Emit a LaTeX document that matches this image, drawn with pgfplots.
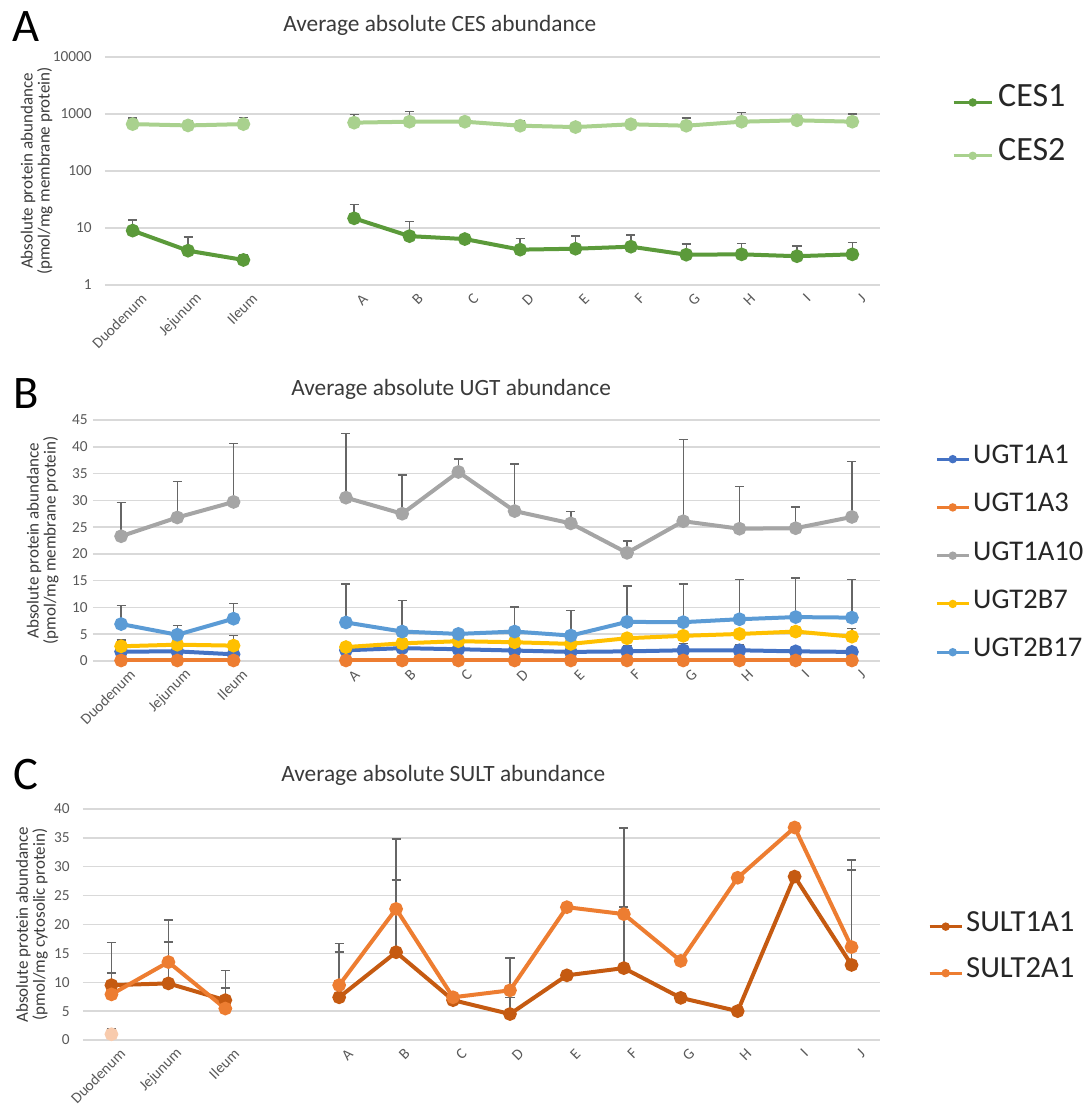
\documentclass[border=0pt]{standalone}
\usepackage{fontspec}
\setmainfont{Carlito}
\usepackage{pgfplots}
\pgfplotsset{compat=1.18}
\usepackage{pgfplotstable}

\definecolor{cesone}{HTML}{5B9A3A}
\definecolor{cestwo}{HTML}{A9D18E}
\definecolor{ugtaone}{HTML}{4472C4}
\definecolor{ugtathree}{HTML}{ED7D31}
\definecolor{ugtaten}{HTML}{A5A5A5}
\definecolor{ugtbseven}{HTML}{FFC000}
\definecolor{ugtbseventeen}{HTML}{5B9BD5}
\definecolor{sultone}{HTML}{C55A11}
\definecolor{sulttwo}{HTML}{ED7D31}
\definecolor{paleorange}{HTML}{F8CBAD}
\definecolor{errc}{HTML}{666666}
\definecolor{gridc}{HTML}{D9D9D9}
\definecolor{tickc}{HTML}{595959}
\definecolor{titlec}{HTML}{3A3A3A}

% CES (pmol/mg membrane protein); e = upper error bar length
\pgfplotstableread{
x  ces1  e1    ces2  e2
0  9.0   4.8   665   185
1  4.0   2.9   630   135
2  2.75  0.65  665   205
3  nan   nan   nan   nan
4  14.8  11.2  705   275
5  7.2   5.7   733   367
6  6.4   0     733   0
7  4.17  2.33  623   132
8  4.33  2.97  590   0
9  4.7   2.9   660   115
10 3.4   1.8   623   227
11 3.45  1.95  733   337
12 3.2   1.6   775   175
13 3.45  2.15  733   267
}\tabA

% UGT
\pgfplotstableread{
x  a1    ea1  a3   ea3  a10   ea10  b7    eb7   b17   eb17
0  1.75  0.5  0.1  0    23.3  6.3   2.75  1.15  6.9   3.5
1  1.8   0.5  0.1  0    26.8  6.7   3.05  0.4   4.9   1.7
2  1.25  0.4  0.1  0    29.7  10.9  2.87  1.9   7.9   2.8
3  nan   nan  nan  nan  nan   nan   nan   nan   nan   nan
4  2.0   0.4  0.1  0    30.5  12.0  2.6   0.3   7.2   7.2
5  2.4   0.5  0.1  0    27.5  7.2   3.3   0.95  5.5   5.8
6  2.2   0.4  0.1  0    35.3  2.4   3.7   0     5.06  0
7  1.95  0.5  0.1  0    28.0  8.8   3.5   0.8   5.5   4.6
8  1.7   0.5  0.1  0    25.7  2.2   3.2   0.3   4.75  4.65
9  1.8   1.1  0.1  0    20.2  2.2   4.25  0.3   7.3   6.7
10 2.0   1.3  0.1  0    26.1  15.3  4.7   0.3   7.25  7.15
11 2.0   1.0  0.1  0    24.7  7.9   5.05  0.3   7.8   7.4
12 1.8   0.9  0.1  0    24.8  4.0   5.5   0.9   8.2   7.3
13 1.7   0.7  0.1  0    26.9  10.4  4.55  1.5   8.1   7.1
}\tabB

% SULT (pmol/mg cytosolic protein)
\pgfplotstableread{
x  s1    es1   s2    es2
0  9.5   2.1   7.9   9.0
1  9.8   7.2   13.5  7.3
2  6.9   5.1   5.45  3.55
3  nan   nan   nan   nan
4  7.4   7.8   9.5   7.2
5  15.2  12.5  22.7  12.1
6  6.9   0     7.4   0
7  4.5   2.9   8.6   5.6
8  11.2  0     23.0  0
9  12.45 10.55 21.8  14.95
10 7.3   0     13.7  0
11 5.0   0     28.1  0
12 28.3  0     36.8  0
13 13.0  16.4  16.1  15.1
}\tabC

\pgfplotsset{
  panel/.style={
    scale only axis, clip=false,
    xmin=-0.5, xmax=13.5,
    xtick={0,1,2,4,5,6,7,8,9,10,11,12,13},
    xticklabels={Duodenum,Jejunum,Ileum,A,B,C,D,E,F,G,H,I,J},
    axis line style={draw=none}, tick style={draw=none},
    major tick length=0pt, minor tick length=0pt,
    ymajorgrids, grid style={gridc, line width=1.1pt},
    unbounded coords=jump,
    /pgf/number format/assume math mode=true,
    tick label style={font=\fontsize{11.5}{13}\selectfont, color=tickc},
    xticklabel style={rotate=45, anchor=east, inner sep=0pt, yshift=-12pt},
    ylabel style={align=center, anchor=center, color=titlec,
      font=\fontsize{12.75}{12.75}\selectfont},
    title style={anchor=center, yshift=0pt, color=titlec, font=\fontsize{17.5}{20}\selectfont},
    legend style={draw=none, fill=none, inner sep=0pt, legend cell align=left,
      text=black!85, nodes={inner sep=0pt, text height=0.66em, text depth=0pt}},
    every axis plot/.append style={line width=3pt, mark=*, mark size=3.6pt},
  },
  errs/.style={forget plot, draw=none, mark=none,
    error bars/.cd, y dir=plus, y explicit,
    error bar style={draw=errc, solid, line width=1.1pt},
    error mark options={rotate=90, draw=errc, solid, line width=1.1pt, mark size=3.4pt}},
  leglen/.style={legend image code/.code={
    \draw[mark repeat=2, mark phase=2, #1, line width=2.2pt, mark size=2pt]
      plot coordinates {(0pt,0pt) (\pgfkeysvalueof{/pgfplots/leghalf},0pt) (\pgfkeysvalueof{/pgfplots/legfull},0pt)};}},
  leghalf/.initial=12pt, legfull/.initial=24pt,
}

\begin{document}
\begin{tikzpicture}
\useasboundingbox (0pt,0pt) rectangle (816.75pt,-833.25pt);

\node[font=\fontsize{35}{35}\selectfont] at (19.5pt,-20.25pt) {A};
\node[font=\fontsize{35}{35}\selectfont] at (19.5pt,-295.5pt) {B};
\node[font=\fontsize{35}{35}\selectfont] at (19.5pt,-581.25pt) {C};

% ---------- A: CES ----------
\begin{axis}[panel,
  at={(78.75pt,-42.75pt)}, anchor=north west,
  width=581.25pt, height=171pt,
  ymode=log, ymin=1, ymax=10000,
  ytick={1,10,100,1000,10000}, yticklabels={1,10,100,1000,10000},
  yticklabel style={anchor=east, inner sep=0pt, xshift=-9.75pt},
  title={Average absolute CES abundance},
  title style={at={(axis description cs:0.432,1.105)}},
  ylabel={Absolute protein abundance\\(pmol/mg membrane protein)},
  ylabel style={at={(axis description cs:-0.088,0.5)}},
  leghalf=14.25pt, legfull=28.5pt, leglen,
  legend style={at={(axis description cs:1.0929,0.821)}, anchor=north west,
    font=\fontsize{25.5}{28}\selectfont, row sep=33.4pt, column sep=3.75pt},
]
\addplot[errs] table[x=x, y=ces1, y error=e1]{\tabA};
\addplot[errs] table[x=x, y=ces2, y error=e2]{\tabA};
\addplot[color=cesone] table[x=x, y=ces1]{\tabA};
\addlegendentry{CES1}
\addplot[color=cestwo] table[x=x, y=ces2]{\tabA};
\addlegendentry{CES2}
\end{axis}

% ---------- B: UGT ----------
\begin{axis}[panel,
  at={(69.75pt,-315pt)}, anchor=north west,
  width=590.25pt, height=180.75pt,
  ymin=0, ymax=45, ytick={0,5,...,45},
  yticklabel style={anchor=east, inner sep=0pt, xshift=-3.75pt},
  title={Average absolute UGT abundance},
  title style={at={(axis description cs:0.455,1.095)}},
  ylabel={Absolute protein abundance\\(pmol/mg membrane protein)},
  ylabel style={at={(axis description cs:-0.064,0.5)}},
  leghalf=12pt, legfull=24pt, leglen,
  legend style={at={(axis description cs:1.0699,0.857)}, anchor=north west,
    font=\fontsize{21.4}{24}\selectfont, row sep=29.6pt, column sep=2.25pt},
]
\addplot[errs] table[x=x, y=a10, y error=ea10]{\tabB};
\addplot[errs] table[x=x, y=b17, y error=eb17]{\tabB};
\addplot[errs] table[x=x, y=b7, y error=eb7]{\tabB};
\addplot[errs] table[x=x, y=a1, y error=ea1]{\tabB};
\addplot[color=ugtaone] table[x=x, y=a1]{\tabB};
\addlegendentry{UGT1A1}
\addplot[color=ugtathree] table[x=x, y=a3]{\tabB};
\addlegendentry{UGT1A3}
\addplot[color=ugtaten] table[x=x, y=a10]{\tabB};
\addlegendentry{UGT1A10}
\addplot[color=ugtbseven] table[x=x, y=b7]{\tabB};
\addlegendentry{UGT2B7}
\addplot[color=ugtbseventeen] table[x=x, y=b17]{\tabB};
\addlegendentry{UGT2B17}
\end{axis}

% ---------- C: SULT ----------
\begin{axis}[panel,
  at={(62.25pt,-606.75pt)}, anchor=north west,
  width=597.75pt, height=173.25pt,
  ymin=0, ymax=40, ytick={0,5,...,40},
  yticklabel style={anchor=east, inner sep=0pt, xshift=-9.75pt},
  title={Average absolute SULT abundance},
  title style={at={(axis description cs:0.452,1.113)}},
  ylabel={Absolute protein abundance\\(pmol/mg cytosolic protein)},
  ylabel style={at={(axis description cs:-0.064,0.5)}},
  leghalf=12pt, legfull=24pt, leglen,
  legend style={at={(axis description cs:1.0602,0.511)}, anchor=north west,
    font=\fontsize{23}{26}\selectfont, row sep=28.3pt, column sep=2.25pt},
]
\addplot[errs] coordinates {(0,1.0) +- (0,1.0)};
\addplot[forget plot, color=paleorange] coordinates {(0,1.0)};
\addplot[errs] table[x=x, y=s1, y error=es1]{\tabC};
\addplot[errs] table[x=x, y=s2, y error=es2]{\tabC};
\addplot[color=sultone] table[x=x, y=s1]{\tabC};
\addlegendentry{SULT1A1}
\addplot[color=sulttwo] table[x=x, y=s2]{\tabC};
\addlegendentry{SULT2A1}
\end{axis}
\end{tikzpicture}
\end{document}
